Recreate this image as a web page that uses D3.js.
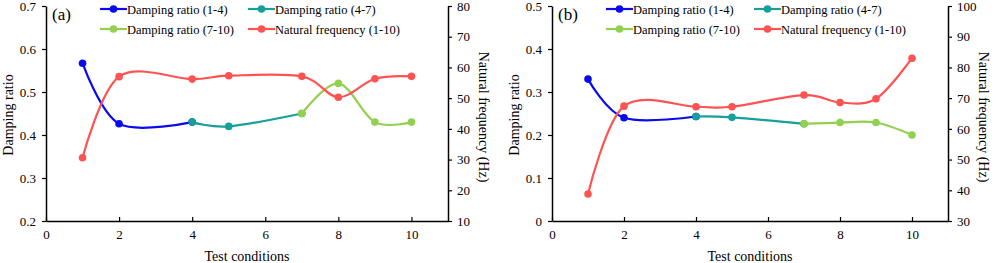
<!DOCTYPE html>
<html>
<head>
<meta charset="utf-8">
<script src="https://cdn.jsdelivr.net/npm/d3@7"></script>
<style>
  body { margin: 0; background: #fff; }
  svg { display: block; font-family: "Liberation Serif", "Times New Roman", serif; }
</style>
</head>
<body>
<svg id="chart" width="996" height="263"></svg>
<script>
// test conditions (x) for each series
const xDamp1 = [1, 2, 4];
const xDamp2 = [4, 5, 7];
const xDamp3 = [7, 8, 9, 10];
const xFreq = [1, 2, 4, 5, 7, 8, 9, 10];

// panel (a)
const aDamp1 = [0.567, 0.426, 0.43];
const aDamp2 = [0.43, 0.42, 0.45];
const aDamp3 = [0.45, 0.52, 0.43, 0.43];
const aFreq = [30.6, 57.0, 56.2, 57.3, 57.1, 50.3, 56.3, 57.1];

// panel (b)
const bDamp1 = [0.33, 0.24, 0.243];
const bDamp2 = [0.243, 0.241, 0.226];
const bDamp3 = [0.226, 0.229, 0.229, 0.2];
const bFreq = [38.8, 67.4, 67.2, 67.2, 71.0, 68.6, 69.8, 83.0];

const xTicks = [0, 2, 4, 6, 8, 10];
const aLeftTicks = [0.2, 0.3, 0.4, 0.5, 0.6, 0.7];
const aRightTicks = [10, 20, 30, 40, 50, 60, 70, 80];
const bLeftTicks = [0, 0.1, 0.2, 0.3, 0.4, 0.5];
const bRightTicks = [30, 40, 50, 60, 70, 80, 90, 100];

const seriesNames = ["Damping ratio (1-4)", "Damping ratio (4-7)", "Damping ratio (7-10)", "Natural frequency (1-10)"];
const colors = ["#0a0af0", "#16a09c", "#92d050", "#ff5252"];

const svg = d3.select("#chart");

function drawPanel(p) {
  const g = svg.append("g");
  const x = d3.scaleLinear().domain([0, 11]).range([p.left, p.right]);
  const yL = d3.scaleLinear().domain(p.leftDomain).range([221, 6]);
  const yR = d3.scaleLinear().domain(p.rightDomain).range([221, 6]);

  // axes
  const xAxis = g.append("g").attr("transform", "translate(0,221)")
    .call(d3.axisBottom(x).tickValues(xTicks).tickFormat(d3.format("d")).tickSizeInner(-4).tickSizeOuter(0).tickPadding(9));
  const lAxis = g.append("g").attr("transform", `translate(${p.left},0)`)
    .call(d3.axisLeft(yL).tickValues(p.leftTicks).tickFormat(p.leftFmt).tickSizeInner(4).tickSizeOuter(0).tickPadding(6));
  const rAxis = g.append("g").attr("transform", `translate(${p.right},0)`)
    .call(d3.axisRight(yR).tickValues(p.rightTicks).tickFormat(d3.format("d")).tickSizeInner(4).tickSizeOuter(0).tickPadding(5));
  [xAxis, lAxis, rAxis].forEach(a => {
    a.selectAll("path").attr("stroke", "#000").attr("stroke-width", 1.5);
    a.selectAll("line").attr("stroke", "#000").attr("stroke-width", 1.2);
    a.selectAll("text").attr("font-family", "Liberation Serif").attr("font-size", 13).attr("fill", "#000");
  });

  // series
  const series = [
    { xs: xDamp1, ys: p.d1, y: yL, c: colors[0] },
    { xs: xDamp2, ys: p.d2, y: yL, c: colors[1] },
    { xs: xDamp3, ys: p.d3, y: yL, c: colors[2] },
    { xs: xFreq, ys: p.f, y: yR, c: colors[3] }
  ];
  series.forEach(s => {
    const pts = s.xs.map((v, i) => [x(v), s.y(s.ys[i])]);
    g.append("path")
      .attr("d", d3.line().curve(d3.curveCardinal.tension(0))(pts))
      .attr("fill", "none")
      .attr("stroke", s.c)
      .attr("stroke-width", 2.2);
    g.selectAll(null).data(pts).enter().append("circle")
      .attr("cx", d => d[0]).attr("cy", d => d[1]).attr("r", 3.8)
      .attr("fill", s.c);
  });

  // legend
  seriesNames.forEach((name, i) => {
    const lx = p.left + (i % 2 === 0 ? 54 : 202);
    const ly = i < 2 ? 9 : 29;
    g.append("line").attr("x1", lx).attr("x2", lx + 27).attr("y1", ly).attr("y2", ly)
      .attr("stroke", colors[i]).attr("stroke-width", 2.2);
    g.append("circle").attr("cx", lx + 13.5).attr("cy", ly).attr("r", 3.8).attr("fill", colors[i]);
    g.append("text").attr("x", lx + 27).attr("y", ly + 4.5)
      .attr("font-size", 12.5).text(name);
  });

  // panel label
  g.append("text").attr("x", p.left + 6).attr("y", 20).attr("font-size", 17).text(p.label);

  // axis titles
  g.append("text").attr("x", (p.left + p.right) / 2).attr("y", 261)
    .attr("text-anchor", "middle").attr("font-size", 14).text("Test conditions");
  g.append("text").attr("transform", `translate(${p.left - 33},115) rotate(-90)`)
    .attr("text-anchor", "middle").attr("font-size", 14).text("Damping ratio");
  g.append("text").attr("transform", `translate(${p.right + 31},117) rotate(90)`)
    .attr("text-anchor", "middle").attr("font-size", 14).text("Natural frequency (Hz)");
}

drawPanel({
  left: 46, right: 448, label: "(a)",
  leftDomain: [0.2, 0.7], rightDomain: [10, 80],
  leftTicks: aLeftTicks, rightTicks: aRightTicks, leftFmt: d3.format(".1f"),
  d1: aDamp1, d2: aDamp2, d3: aDamp3, f: aFreq
});
drawPanel({
  left: 552, right: 948, label: "(b)",
  leftDomain: [0, 0.5], rightDomain: [30, 100],
  leftTicks: bLeftTicks, rightTicks: bRightTicks, leftFmt: d => d === 0 ? "0" : d3.format(".1f")(d),
  d1: bDamp1, d2: bDamp2, d3: bDamp3, f: bFreq
});
</script>
</body>
</html>
